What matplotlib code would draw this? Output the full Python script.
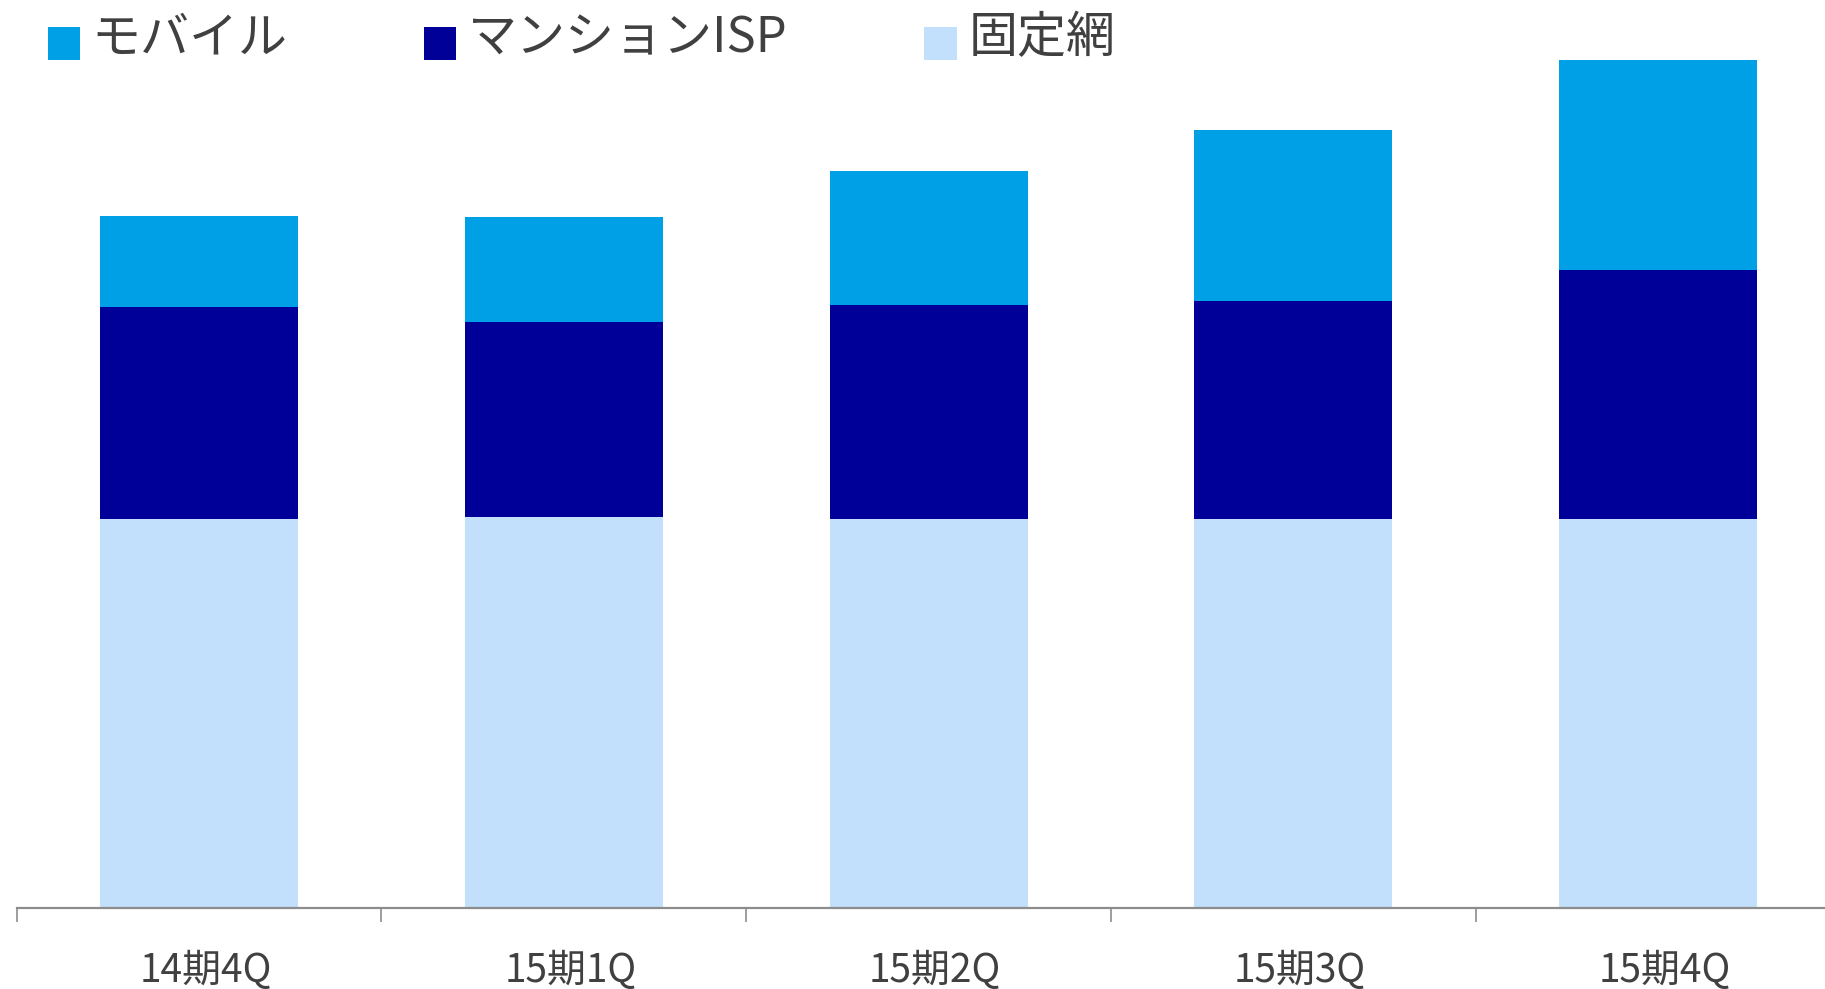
import matplotlib
matplotlib.use("Agg")
import matplotlib.pyplot as plt
import matplotlib.transforms as mtransforms
from matplotlib.patches import Rectangle
from matplotlib.legend_handler import HandlerPatch
import numpy as np

plt.rcParams['font.family'] = ['Noto Sans CJK JP', 'DejaVu Sans']

categories = ["14期4Q", "15期1Q", "15期2Q", "15期3Q", "15期4Q"]
fixed_net = [389, 391, 389, 389, 389]
mansion_isp = [212, 195, 214, 218, 249]
mobile = [91, 105, 134, 171, 210]
series_names = ["モバイル", "マンションISP", "固定網"]
colors = {"モバイル": "#00A0E6", "マンションISP": "#000099", "固定網": "#C2E0FC"}

W, H = 1825, 989
fig = plt.figure(figsize=(W / 100, H / 100), dpi=100)
ax = fig.add_axes([16.6 / W, (H - 908) / H, 1824 / W, 908 / H])

x = np.arange(len(categories))
fixed_arr = np.array(fixed_net)
mans_arr = np.array(mansion_isp)
mob_arr = np.array(mobile)
bw = 0.543
b_fixed = ax.bar(x, fixed_arr, width=bw, color=colors["固定網"], linewidth=0)
b_mans = ax.bar(x, mans_arr, width=bw, bottom=fixed_arr, color=colors["マンションISP"], linewidth=0)
b_mob = ax.bar(x, mob_arr, width=bw, bottom=fixed_arr + mans_arr, color=colors["モバイル"], linewidth=0)

ax.set_xlim(-0.5, len(categories) - 0.5)
ax.set_ylim(0, 908)
for s in ["top", "left", "right"]:
    ax.spines[s].set_visible(False)
ax.spines["bottom"].set_color("#8C8C8C")
ax.spines["bottom"].set_linewidth(1.6)
ax.set_yticks([])
ax.set_xticks(x)
ax.set_xticklabels(categories, fontsize=28, color="#404040")
ax.tick_params(axis="x", which="major", length=0, pad=31)
offset = mtransforms.ScaledTranslation(6.5 / 100, 0, fig.dpi_scale_trans)
for lbl in ax.get_xticklabels():
    lbl.set_transform(lbl.get_transform() + offset)
ax.set_xticks(np.arange(len(categories) + 1) - 0.5, minor=True)
ax.tick_params(axis="x", which="minor", length=10, width=1.2, color="#8C8C8C")


def square(legend, orig_handle, xdescent, ydescent, width, height, fontsize):
    dy = 6.0
    return Rectangle((-xdescent, -ydescent - dy), width, width)


handler = HandlerPatch(patch_func=square)
fig.legend([b_mob.patches[0], b_mans.patches[0], b_fixed.patches[0]], series_names, loc="upper left",
           bbox_to_anchor=(28 / W, 1 + 6 / H), ncol=3, frameon=False,
           fontsize=35.3, labelcolor="#404040",
           handlelength=0.66, handleheight=0.66, handletextpad=0.24,
           columnspacing=2.78, borderaxespad=0,
           handler_map={Rectangle: handler})

fig.savefig("out.png", dpi=100)
